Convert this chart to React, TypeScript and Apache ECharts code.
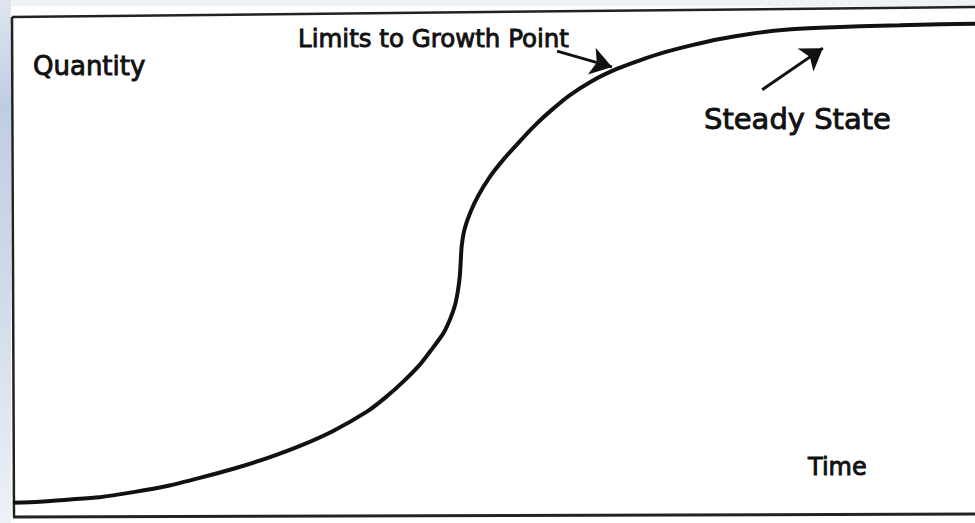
import React, { useEffect, useRef } from "react";
import * as echarts from "echarts";

// S-curve (logistic growth): time (0-100) vs quantity (0-100)
const time = [0.1, 2.9, 5.7, 9.1, 12.6, 16.1, 19.5, 23.0, 26.5, 29.9, 33.3, 36.9, 38.7, 40.6, 42.4, 43.7, 44.8, 45.5, 46.0, 46.3, 46.5, 46.6, 46.7, 47.0, 47.6, 48.4, 49.6, 51.0, 52.8, 54.3, 55.9, 57.9, 60.2, 62.8, 65.2, 67.8, 70.4, 73.5, 76.6, 80.3, 83.9, 88.1, 92.2, 96.4, 100];
const quantity = [2.6, 2.8, 3.2, 3.7, 4.7, 5.9, 7.5, 9.3, 11.4, 13.8, 16.7, 20.6, 23.2, 26.4, 29.9, 33.1, 36.0, 38.8, 41.5, 44.3, 47.2, 50.2, 53.2, 56.5, 59.8, 63.0, 66.7, 70.1, 73.9, 76.9, 79.7, 82.8, 85.6, 88.0, 89.7, 91.3, 92.6, 93.9, 94.9, 95.7, 96.1, 96.4, 96.6, 96.8, 96.9];

// annotation arrows: [tailTime, tailQty, tipTime, tipQty]
const limitsArrow = [56.6, 91.5, 62.3, 88.4];
const steadyArrow = [77.9, 83.9, 84.2, 92.1];

const labels = {
  quantity: "Quantity",
  time: "Time",
  limits: "Limits to Growth Point",
  steady: "Steady State",
};

export default function App() {
  const ref = useRef<HTMLDivElement>(null);
  useEffect(() => {
    if (!ref.current) return;
    const chart = echarts.init(ref.current, null, { renderer: "svg" });
    const font = "DejaVu Sans";
    const txt = (text: string, x: number, y: number, size: number) => ({
      type: "text",
      x,
      y,
      silent: true,
      style: {
        text,
        fill: "#111",
        stroke: "#111",
        lineWidth: 0.9,
        font: `${size}px "${font}"`,
        fontSize: size,
        fontFamily: font,
        align: "left",
        verticalAlign: "middle",
      },
    });
    const arrow = (a: number[]) => [
      { coord: [a[0], a[1]], symbol: "none" },
      { coord: [a[2], a[3]], symbol: "arrow", symbolSize: 21 },
    ];
    chart.setOption({
      animation: false,
      backgroundColor: "#ffffff",
      grid: { left: 12, right: 0, top: 8, bottom: 7 },
      xAxis: { type: "value", min: 0, max: 100, show: false },
      yAxis: { type: "value", min: 0, max: 100, show: false },
      series: [
        {
          type: "line",
          data: time.map((t, i) => [t, quantity[i]]),
          smooth: 0.25,
          showSymbol: false,
          symbol: "none",
          lineStyle: { color: "#111", width: 4 },
          markLine: {
            silent: true,
            symbol: ["none", "arrow"],
            symbolSize: 21,
            label: { show: false },
            lineStyle: { color: "#111", width: 3, type: "solid" },
            data: [arrow(limitsArrow), arrow(steadyArrow)],
          },
        },
      ],
      graphic: [
        { type: "rect", shape: { x: 0, y: 0, width: 975, height: 6 }, style: { fill: "#eef1f6" }, silent: true },
        {
          type: "rect",
          shape: { x: 0, y: 0, width: 11, height: 523 },
          style: {
            fill: new echarts.graphic.LinearGradient(0, 0, 0, 1, [
              { offset: 0, color: "#dfe6f0" },
              { offset: 0.2, color: "#bfcde3" },
              { offset: 0.6, color: "#d3dcea" },
              { offset: 1, color: "#eef2f7" },
            ]),
          },
          silent: true,
        },
        { type: "polyline", shape: { points: [[12, 17], [975, 7]] }, style: { stroke: "#222", lineWidth: 2.5 }, silent: true },
        { type: "polyline", shape: { points: [[12, 17], [14, 517]] }, style: { stroke: "#222", lineWidth: 2.5 }, silent: true },
        { type: "polyline", shape: { points: [[13, 517], [975, 514]] }, style: { stroke: "#222", lineWidth: 3 }, silent: true },
        txt(labels.quantity, 33, 66, 26),
        txt(labels.limits, 298, 38, 24.5),
        txt(labels.steady, 704, 119, 29),
        txt(labels.time, 808, 467, 24),
      ],
    });
    return () => chart.dispose();
  }, []);
  return (
    <div
      ref={ref}
      style={{ position: "fixed", left: 0, top: 0, width: 975, height: 523 }}
    />
  );
}
